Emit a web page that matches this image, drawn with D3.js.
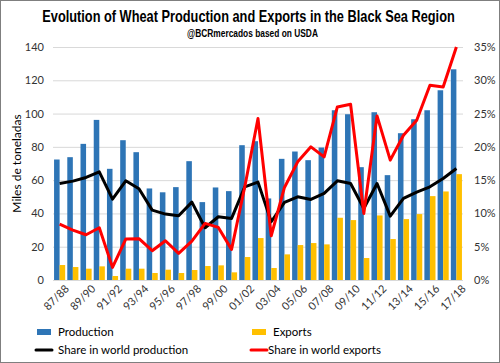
<!DOCTYPE html>
<html>
<head>
<meta charset="utf-8">
<script src="https://cdn.jsdelivr.net/npm/d3@7"></script>
<style>
  body { margin: 0; background: #fff; }
  svg { display: block; }
  .tick text { font-family: Lato, "Liberation Sans", sans-serif; font-size: 11px; fill: #333; }
</style>
</head>
<body>
<div id="viz"></div>
<script>
const width = 500;
const height = 363;
const margin = {top: 47, right: 37, bottom: 83, left: 53};

// season labels
const seasons = ["87/88","88/89","89/90","90/91","91/92","92/93","93/94","94/95","95/96","96/97",
  "97/98","98/99","99/00","00/01","01/02","02/03","03/04","04/05","05/06","06/07",
  "07/08","08/09","09/10","10/11","11/12","12/13","13/14","14/15","15/16","16/17","17/18"];

// million tonnes
const production = [72.4, 73.8, 81.8, 96.2, 66.8, 84, 76.8, 55, 52.7, 55.8,
  71.4, 46.8, 55.6, 53.4, 81, 83.4, 49, 72.8, 77.2, 72,
  79.6, 102, 99.6, 67.8, 100.8, 63, 88.2, 96.6, 102, 114, 126.6];
const exportsT = [9, 7.8, 6.8, 8.2, 2.4, 6.8, 6.8, 4.2, 6.2, 4.2,
  6, 8.4, 8.8, 4.6, 13.8, 25.2, 7.2, 15.4, 21, 22.2,
  21.4, 37.4, 36, 13.2, 38.8, 24.6, 36.6, 39.6, 50.4, 53.2, 63.6];

// percent of world total
const shareProd = [14.5, 14.85, 15.4, 16.25, 12.15, 14.9, 13.7, 10.5, 9.9, 9.65,
  11.7, 7.85, 9.5, 9.25, 14, 14.7, 8.75, 11.65, 12.5, 12.1,
  13, 14.9, 14.5, 10.75, 14.5, 9.6, 12.25, 13.2, 14, 15.25, 16.75];
const shareExp = [8.4, 7.5, 6.8, 7.85, 1.9, 6.15, 6.2, 4.4, 5.9, 4,
  5.85, 8.5, 7.9, 4.6, 14, 24.25, 6.65, 13.9, 17.75, 20,
  18.5, 26, 26.4, 10, 24.65, 18, 21.75, 24, 29.25, 29, 35];

const leftTicks = [0, 20, 40, 60, 80, 100, 120, 140];
const rightTicks = [0, 5, 10, 15, 20, 25, 30, 35];

const svg = d3.select("#viz").append("svg")
  .attr("width", width)
  .attr("height", height);

svg.append("rect")
  .attr("x", 0.5).attr("y", 0.5)
  .attr("width", width - 1).attr("height", height - 1)
  .attr("fill", "#fff").attr("stroke", "#7f7f7f");

const x = d3.scaleBand()
  .domain(seasons)
  .range([margin.left, width - margin.right])
  .paddingInner(0.16)
  .paddingOuter(0.08);

const xSub = d3.scaleBand()
  .domain(["production", "exports"])
  .range([0, x.bandwidth()]);

const y = d3.scaleLinear()
  .domain([0, 140])
  .range([height - margin.bottom, margin.top]);

const y2 = d3.scaleLinear()
  .domain([0, 35])
  .range([height - margin.bottom, margin.top]);

// gridlines
svg.append("g")
  .selectAll("line")
  .data(leftTicks)
  .join("line")
    .attr("x1", margin.left)
    .attr("x2", width - margin.right)
    .attr("y1", d => y(d) + 0.5)
    .attr("y2", d => y(d) + 0.5)
    .attr("stroke", "#d9d9d9")
    .attr("stroke-width", 1);

// left axis
const yAxis = svg.append("g")
  .attr("transform", "translate(" + (margin.left - 4) + ",0)")
  .call(d3.axisLeft(y).tickValues(leftTicks).tickSize(0).tickPadding(5));
yAxis.select(".domain").remove();

// right axis
const y2Axis = svg.append("g")
  .attr("transform", "translate(" + (width - margin.right + 6) + ",0)")
  .call(d3.axisRight(y2).tickValues(rightTicks).tickSize(0).tickPadding(5).tickFormat(d => d + "%"));
y2Axis.select(".domain").remove();

// x axis labels, every other season
const xAxis = svg.append("g")
  .attr("transform", "translate(0," + (height - margin.bottom) + ")")
  .call(d3.axisBottom(x).tickValues(seasons.filter((d, i) => i % 2 === 0)).tickSize(0).tickPadding(0));
xAxis.select(".domain").remove();
xAxis.selectAll("text")
  .attr("text-anchor", "end")
  .attr("dx", "0.3em")
  .attr("dy", "0.5em")
  .attr("transform", "translate(4,8) rotate(-45)");

// y title
svg.append("text")
  .attr("transform", "rotate(-90)")
  .attr("x", -(y(70)))
  .attr("y", 21)
  .attr("text-anchor", "middle")
  .style("font-family", "Lato, 'Liberation Sans', sans-serif")
  .style("font-size", "12px")
  .attr("fill", "#000")
  .text("Miles de toneladas");

// bars
const bars = svg.append("g");
bars.selectAll("rect.prod")
  .data(seasons)
  .join("rect")
    .attr("class", "prod")
    .attr("x", (d) => x(d) + xSub("production"))
    .attr("width", xSub.bandwidth())
    .attr("y", (d, i) => y(production[i]))
    .attr("height", (d, i) => y(0) - y(production[i]))
    .attr("fill", "#2e75b6");
bars.selectAll("rect.exp")
  .data(seasons)
  .join("rect")
    .attr("class", "exp")
    .attr("x", (d) => x(d) + xSub("exports"))
    .attr("width", xSub.bandwidth())
    .attr("y", (d, i) => y(exportsT[i]))
    .attr("height", (d, i) => y(0) - y(exportsT[i]))
    .attr("fill", "#ffc000");

// lines
const line = d3.line()
  .x((d, i) => x(seasons[i]) + x.bandwidth() / 2)
  .y(d => y2(d));

svg.append("path")
  .datum(shareProd)
  .attr("d", line)
  .attr("fill", "none")
  .attr("stroke", "#000")
  .attr("stroke-width", 3)
  .attr("stroke-linejoin", "round");

svg.append("path")
  .datum(shareExp)
  .attr("d", line)
  .attr("fill", "none")
  .attr("stroke", "#ff0000")
  .attr("stroke-width", 3)
  .attr("stroke-linejoin", "round");

// titles, squeezed horizontally to look condensed
function condensed(text, cx, cy, size, targetW) {
  const t = svg.append("text")
    .attr("text-anchor", "middle")
    .style("font-family", "'Liberation Sans', sans-serif")
    .style("font-weight", "bold")
    .style("font-size", size + "px")
    .text(text);
  const w = t.node().getComputedTextLength();
  t.attr("transform", "translate(" + cx + "," + cy + ") scale(" + (targetW / w) + ",1)");
}
condensed("Evolution of Wheat Production and Exports in the Black Sea Region", 248.5, 22, 16, 413);
condensed("@BCRmercados based on USDA", 252.5, 37, 11, 131);

// legend
const legendItems = [
  {label: "Production", color: "#2e75b6", type: "rect", x: 37, y: 332},
  {label: "Exports", color: "#ffc000", type: "rect", x: 252, y: 332},
  {label: "Share in world production", color: "#000", type: "line", x: 36, y: 350},
  {label: "Share in world exports", color: "#ff0000", type: "line", x: 251, y: 350}
];

const leg = svg.append("g").selectAll("g")
  .data(legendItems)
  .join("g")
    .attr("transform", d => "translate(" + d.x + "," + d.y + ")");

leg.filter(d => d.type === "rect").append("rect")
  .attr("x", 0).attr("y", -3)
  .attr("width", 14).attr("height", 6)
  .attr("fill", d => d.color);

leg.filter(d => d.type === "line").append("line")
  .attr("x1", 0).attr("x2", 16)
  .attr("y1", 0).attr("y2", 0)
  .attr("stroke", d => d.color)
  .attr("stroke-width", 3)
  .attr("stroke-linecap", "round");

leg.append("text")
  .attr("x", d => d.type === "rect" ? 21 : (d.color === "#ff0000" ? 17 : 22))
  .attr("y", 4)
  .style("font-family", "Lato, 'Liberation Sans', sans-serif")
  .style("font-size", "11.5px")
  .attr("fill", "#000")
  .text(d => d.label);
</script>
</body>
</html>
